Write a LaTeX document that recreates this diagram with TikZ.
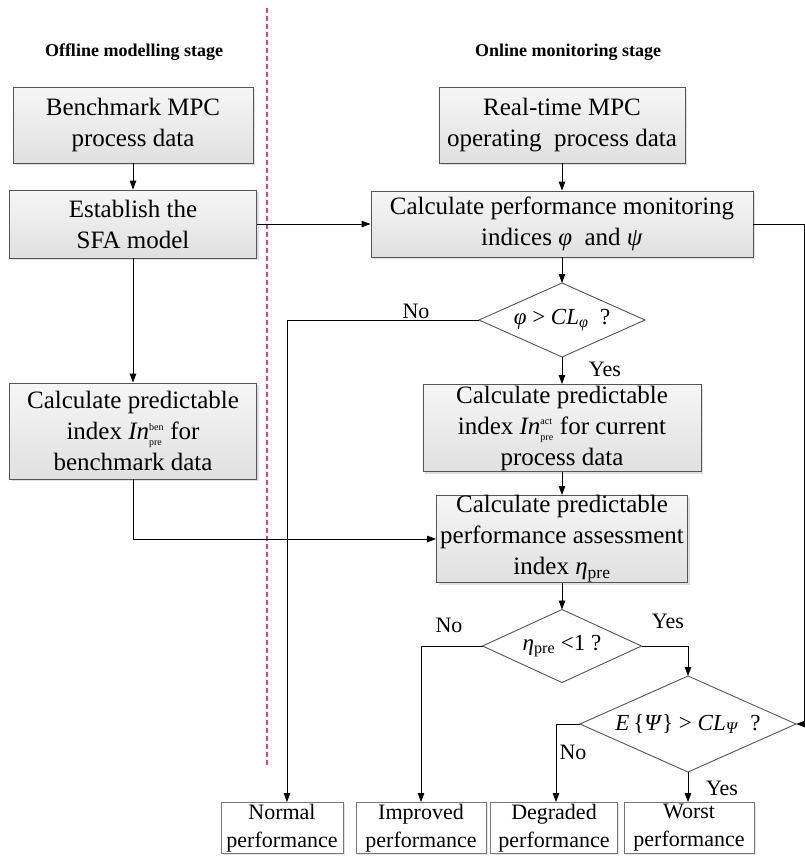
\documentclass[tikz,border=0pt]{standalone}
\usepackage{fontspec}
\setmainfont{Liberation Serif}
\usetikzlibrary{shapes.geometric,shadows,arrows.meta}
\definecolor{edge}{RGB}{85,85,85}
\definecolor{boxtop}{RGB}{246,246,246}
\definecolor{boxbot}{RGB}{224,224,224}
\definecolor{stagered}{RGB}{232,64,112}
\newcommand{\subsup}[2]{$^{\mbox{\fontsize{10}{10}\selectfont #1}}_{\mbox{\fontsize{10}{10}\selectfont #2}}$}
\begin{document}
\begin{tikzpicture}[x=1pt,y=-1pt,
  procbox/.style={draw=edge, line width=0.9pt, top color=boxtop, bottom color=boxbot,
    drop shadow={opacity=0.25, shadow xshift=2pt, shadow yshift=-2pt},
    align=center, inner sep=0pt, font=\fontsize{25}{31}\selectfont},
  endbox/.style={draw=edge!80, line width=0.9pt, fill=white,
    drop shadow={opacity=0.2, shadow xshift=1.5pt, shadow yshift=-1.5pt},
    align=center, inner sep=0pt, minimum height=51pt, font=\fontsize{22}{28}\selectfont},
  decision/.style={draw=edge, line width=0.9pt, fill=white, shape=diamond, inner sep=0pt, outer sep=0pt},
  dtext/.style={inner sep=0pt, font=\fontsize{23}{26}\selectfont},
  title/.style={font=\fontsize{18}{20}\selectfont\bfseries},
  lab/.style={font=\fontsize{22}{24}\selectfont, inner sep=0pt},
  conn/.style={line width=0.9pt, -{Triangle[length=9pt,width=6.5pt]}}]
\useasboundingbox (0,0) rectangle (805,863);

% stage divider
\coordinate (dtop) at (267,8);
\coordinate (dbot) at (267,765);
\draw[stagered, line width=1.2pt, dash pattern=on 5pt off 3pt] (dtop) -- (dbot);

% titles
\node[title] (t1) at (134,52) {Offline modelling stage};
\node[title] (t2) at (568,52) {Online monitoring stage};

% offline column
\node[procbox, minimum width=240pt, minimum height=76pt] (bench) at (133,125) {Benchmark MPC\\process data};
\node[procbox, minimum width=247pt, minimum height=68pt] (sfa) at (133,224) {Establish the\\SFA model};
\node[procbox, minimum width=247pt, minimum height=96pt] (ben) at (133,431) {Calculate predictable\\index \textit{In}\subsup{ben}{pre}\ for\\benchmark data};

% online column
\node[procbox, minimum width=246pt, minimum height=76pt] (rt) at (562,125) {Real-time MPC\\operating\ \ process data};
\node[procbox, minimum width=382pt, minimum height=66pt] (calc) at (562,224) {Calculate performance monitoring\\indices \textit{φ}\ \ and \textit{ψ}};
\node[decision, minimum width=166pt, minimum height=74pt] (d1) at (562,320) {};
\node[dtext] (d1t) at (d1.center) {\textit{φ} > \textit{CL}\textsubscript{\textit{φ}}\ \ ?};
\node[procbox, minimum width=278pt, minimum height=87pt] (act) at (562,428) {Calculate predictable\\index \textit{In}\subsup{act}{pre} for current\\process data};
\node[procbox, minimum width=251pt, minimum height=87pt] (eta) at (562,539) {Calculate predictable\\performance assessment\\index \textit{η}\textsubscript{pre}};
\node[decision, minimum width=159pt, minimum height=73pt] (d2) at (562,646) {};
\node[dtext] (d2t) at (d2.center) {\textit{η}\textsubscript{pre} <1 ?};
\node[decision, minimum width=216pt, minimum height=96pt] (d3) at (688,724) {};
\node[dtext] (d3t) at (d3.center) {\textit{E}\,\{\textit{Ψ}\} > \textit{CL}\textsubscript{\textit{Ψ}}\ \ ?};

% outcomes
\node[endbox, minimum width=122pt] (normal) at (282,828) {Normal\\performance};
\node[endbox, minimum width=130pt] (improved) at (421,828) {Improved\\performance};
\node[endbox, minimum width=127pt] (degraded) at (554,828) {Degraded\\performance};
\node[endbox, minimum width=130pt] (worst) at (689,828) {Worst\\performance};

% connectors
\draw[conn] (bench.south) -- (sfa.north);
\draw[conn] (sfa.south) -- (ben.north);
\draw[conn] (ben.south) |- (eta.west);
\draw[conn] (sfa.east) -- (calc.west);
\draw[conn] (rt.south) -- (calc.north);
\draw[conn] (calc.south) -- (d1.north);
\draw[conn] (d1.south) -- (act.north);
\draw[conn] (act.south) -- (eta.north);
\draw[conn] (eta.south) -- (d2.north);
\coordinate (nrm) at (287,320);
\draw[conn] (d1.west) -- (nrm) -- (nrm |- normal.north);
\draw[conn] (d2.west) -| (improved.north);
\draw[conn] (d2.east) -| (d3.north);
\coordinate (dg) at (556,724);
\draw[conn] (d3.west) -- (dg) -- (dg |- degraded.north);
\draw[conn] (d3.south) -- (d3.south |- worst.north);
\coordinate (rc) at (804,224);
\draw[conn] (calc.east) -- (rc) |- (d3.east);

% branch labels
\node[lab] (n1) at (416,311) {No};
\node[lab] (y1) at (605,369) {Yes};
\node[lab] (n2) at (449,625) {No};
\node[lab] (y2) at (668,621) {Yes};
\node[lab] (n3) at (573,752) {No};
\node[lab] (y3) at (722,788) {Yes};
\end{tikzpicture}
\end{document}
